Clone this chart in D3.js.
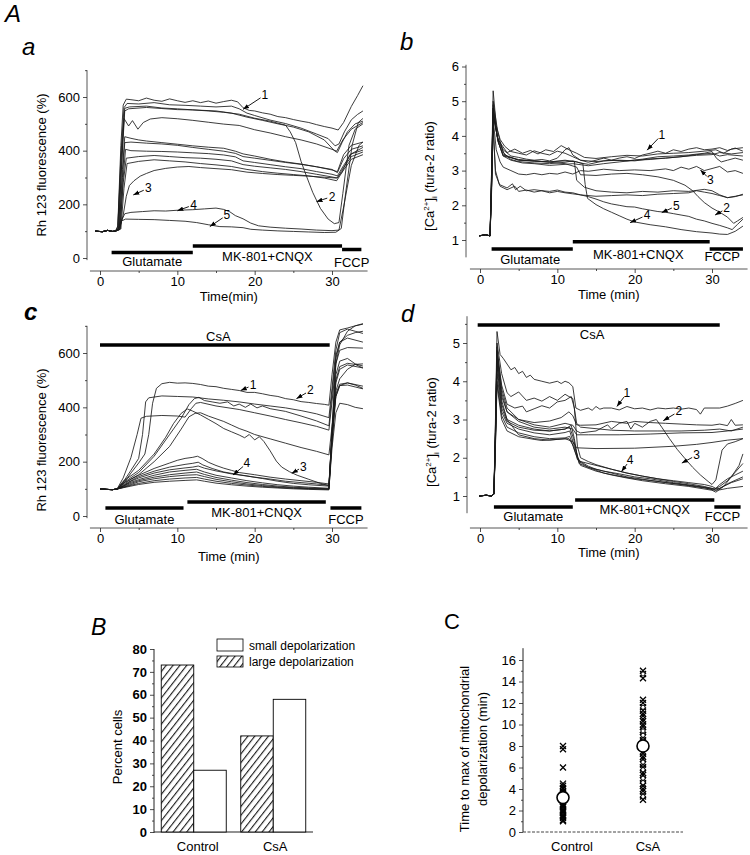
<!DOCTYPE html>
<html><head><meta charset="utf-8">
<script src="https://cdn.jsdelivr.net/npm/d3@7"></script>
<style>body{margin:0;background:#fff;}</style>
</head><body>
<script>
// ---------------- DATA ----------------
// Panel a: Rh123 fluorescence (%), control
const aPre = [[-0.6,100],[0.3,98],[1.0,103],[1.6,99],[2.0,100]];
const rhControlTraces = [
 [[2.3,120],[2.7,420],[3.0,570],[3.4,592],[4,590],[5,586],[6,596],[7,588],[8,584],[9,593],[10,586],[11,580],[12,586],[13,579],[14,585],[15,577],[16,583],[17,588],[17.8,582],[18.5,560],[19.3,550],[20,548],[21,541],[22,536],[23,527],[24,523],[25,516],[26,510],[27,505],[28,497],[29,490],[30,484],[30.8,477],[31.5,505],[32.5,565],[33.3,605],[34,642]],
 [[2.3,110],[2.7,380],[3.1,560],[3.5,576],[5,574],[7,579],[9,571],[11,569],[13,566],[15,563],[17,566],[18,556],[19,540],[20,531],[22,514],[24,501],[26,484],[28,462],[29.5,445],[30.4,418],[30.9,425],[31.6,470],[32.5,515],[33.3,535],[34,548]],
 [[2.4,110],[2.8,350],[3.2,548],[3.7,556],[6,561],[8,557],[10,553],[12,552],[15,548],[17,540],[19,525],[21,513],[23,500],[25,488],[27,470],[29,440],[30.3,400],[30.7,393],[31.3,430],[32,470],[33,500],[34,510]],
 [[2.3,115],[2.8,400],[3.2,558],[3.8,563],[6,566],[8,559],[10,556],[12,552],[14,548],[16,543],[18,536],[20,521],[22,510],[24,495],[24.6,470],[25.3,430],[26,360],[26.7,305],[27.5,245],[28.5,185],[29.5,145],[30.3,128],[30.9,132],[31.4,240],[32.2,420],[33,480],[34,500]],
 [[2.4,110],[2.8,350],[3.1,520],[3.7,492],[4.2,512],[4.9,480],[5.6,505],[6.5,518],[8,523],[10,519],[12,513],[14,506],[16,499],[18,494],[19,486],[20,478],[22,466],[24,452],[26,440],[28,425],[30,405],[30.6,398],[31.4,440],[32.5,480],[34,505]],
 [[2.5,115],[2.9,330],[3.2,452],[4,446],[5,440],[6,436],[8,430],[10,424],[12,418],[14,413],[16,409],[17.5,398],[18.5,388],[20,380],[22,368],[24,358],[26,350],[28,340],[30,328],[30.7,322],[31.5,385],[32.5,420],[34,432]],
 [[2.5,112],[2.9,300],[3.2,430],[4,432],[6,428],[8,425],[10,420],[12,412],[14,405],[16,398],[17.5,390],[18.5,378],[20,372],[22,364],[24,356],[26,349],[28,340],[30,330],[30.7,318],[31.5,370],[32.5,405],[34,418]],
 [[2.6,110],[3.0,300],[3.3,405],[4,400],[6,398],[8,397],[10,395],[12,392],[14,389],[16,384],[17.5,377],[18.5,362],[20,356],[22,348],[24,340],[26,333],[28,322],[30,312],[30.7,306],[31.5,345],[32.5,388],[34,402]],
 [[2.6,108],[3.0,280],[3.4,372],[5,378],[7,382],[9,378],[11,374],[13,372],[15,368],[17,362],[18.5,348],[20,342],[22,336],[24,330],[26,322],[28,312],[30,302],[30.7,298],[31.5,338],[32.5,378],[34,395]],
 [[2.7,108],[3.1,260],[3.5,352],[5,360],[7,366],[9,362],[11,358],[13,352],[15,347],[17,341],[19,330],[21,322],[23,316],[25,311],[27,306],[29,298],[30.6,288],[31.5,328],[32.5,368],[34,385]],
 [[2.5,105],[3.0,160],[3.4,230],[3.8,270],[4.4,288],[5.2,305],[6,315],[7,326],[8.5,334],[10,339],[11.5,341],[13,337],[15,333],[17,329],[19,320],[21,315],[23,311],[25,308],[27,305],[29,301],[30.6,298],[31.3,320],[32.3,385],[34,412]],
 [[2.4,105],[2.8,140],[3.2,165],[4,170],[5.5,173],[7,176],[8.5,175],[10,178],[12,180],[13.5,183],[15,186],[16,181],[16.8,172],[17.5,158],[18.5,146],[19.5,130],[20.5,120],[22,115],[24,111],[26,108],[28,104],[30,102],[30.9,104],[31.5,190],[32.5,345],[33.5,420],[34,432]],
 [[2.4,105],[2.8,138],[3.3,145],[5,144],[7,143],[9,140],[11,137],[12.5,132],[14,124],[15.5,117],[17,116],[18.5,113],[19.5,107],[21,104],[23,101],[25,99],[27,97],[29,95],[30.5,96],[31.2,110],[31.8,250],[32.6,420],[33.4,505],[34,520]]
];
const rhControlLabels = [["1",21.3,607,18.5,554],["2",30.0,229,28.0,210],["3",6.25,260,4.3,235],["4",12.1,198,10.0,176],["5",16.4,160,14.2,117]];

// Panel b: [Ca2+]i, control
const bPre = [[-0.1,1.12],[0.7,1.15],[1.3,1.12]];
const caControlTraces = [
 [[1.5,3.0],[1.7,5.3],[2.1,4.3],[2.6,3.9],[3.2,3.7],[4,3.55],[5,3.5],[6,3.45],[7,3.57],[8,3.5],[9,3.45],[10,3.56],[11,3.5],[12,3.4],[13,3.3],[14,3.24],[15,3.3],[16,3.36],[17,3.3],[18,3.36],[19,3.4],[20,3.35],[21,3.45],[22,3.5],[23,3.56],[24,3.5],[25,3.6],[26,3.55],[27,3.62],[28,3.66],[29,3.6],[30,3.62],[31,3.66],[32,3.58],[33,3.65],[34,3.56]],
 [[1.5,3.0],[1.7,4.8],[2.2,4.0],[3,3.6],[4,3.42],[5,3.38],[6,3.33],[7,3.3],[8,3.32],[9,3.28],[10,3.36],[11,3.6],[11.5,3.66],[12,3.45],[13,3.3],[15,3.26],[17,3.3],[19,3.28],[21,3.33],[23,3.4],[25,3.42],[27,3.45],[29,3.5],[30,3.55],[30.6,3.35],[31.2,3.25],[32,3.3],[33,3.36],[34,3.3]],
 [[1.5,2.8],[1.7,5.0],[2.3,4.1],[3,3.52],[4,3.32],[5,3.26],[7,3.22],[9,3.2],[11,3.24],[12,3.28],[13,3.22],[14,3.18],[16,3.28],[18,3.3],[20,3.28],[22,3.34],[24,3.36],[26,3.4],[28,3.46],[30,3.5],[31,3.42],[32,3.46],[34,3.42]],
 [[1.5,2.6],[1.7,4.6],[2.4,3.8],[3,3.42],[4,3.3],[5.5,3.22],[7,3.2],[9,3.15],[11,3.18],[12,3.2],[14,3.14],[16,3.2],[18,3.25],[20,3.3],[22,3.32],[24,3.36],[26,3.4],[28,3.44],[30,3.46],[31,3.52],[32.5,3.48],[34,3.52]],
 [[1.5,2.7],[1.7,4.7],[2.3,3.9],[3.5,3.52],[4.5,3.62],[5.5,3.5],[6.5,3.58],[7.5,3.48],[8.5,3.6],[9.5,3.55],[10.5,3.72],[11.5,3.6],[12.5,3.5],[13.5,3.38],[15,3.35],[17,3.4],[19,3.44],[21,3.42],[23,3.48],[25,3.5],[27,3.52],[29,3.56],[30.5,3.6],[31.5,3.5],[32.5,3.62],[34,3.66]],
 [[1.5,2.6],[1.7,4.5],[2.1,3.6],[2.6,3.25],[3,3.1],[4,3.0],[5,2.9],[6,2.88],[7,2.92],[8,2.88],[9,2.92],[10,2.9],[11,2.96],[12,2.9],[13,3.0],[14,2.98],[16,3.04],[18,3.0],[20,3.02],[22,3.0],[24,3.05],[25,3.0],[26,3.1],[27,3.04],[28,3.12],[29,3.0],[30,3.06],[31,3.12],[32,2.96],[33,3.0],[34,2.92]],
 [[1.5,2.8],[1.7,4.9],[2.3,3.9],[3.2,3.45],[5,3.3],[7,3.28],[9,3.24],[11,3.2],[12.5,3.1],[13,2.88],[15,2.86],[17,2.9],[19,2.92],[21,2.88],[23,2.82],[25,2.72],[26.5,2.58],[27.5,2.42],[28.2,2.25],[29,2.08],[30,1.92],[31,1.8],[32,1.66],[32.8,1.48],[33.3,1.55],[34,1.65]],
 [[1.5,2.6],[1.7,4.6],[2.4,3.8],[3,3.42],[5,3.32],[7,3.28],[9,3.25],[11,3.3],[12.2,3.26],[12.5,2.72],[13.5,2.52],[15,2.42],[17,2.38],[19,2.36],[21,2.4],[23,2.38],[25,2.42],[27,2.4],[29,2.46],[30,2.42],[31,2.3],[32,2.22],[33,2.25],[34,2.32]],
 [[1.5,2.8],[1.7,4.8],[2.3,3.85],[3,3.45],[5,3.3],[7,3.27],[9,3.25],[11,3.28],[12.5,3.25],[13.3,3.2],[13.6,2.6],[13.9,2.2],[15,2.02],[16,1.9],[17,1.8],[18,1.7],[19,1.6],[20,1.52],[22,1.44],[24,1.38],[26,1.3],[28,1.24],[30,1.2],[31,1.17],[32,1.16],[33,1.25],[34,1.4]],
 [[1.5,2.5],[1.7,4.3],[2.0,3.0],[2.5,2.6],[3.5,2.5],[4.2,2.62],[4.6,2.45],[5.2,2.55],[6,2.42],[7,2.45],[8,2.42],[9,2.4],[10,2.44],[11,2.38],[12,2.36],[13,2.3],[14,2.25],[15,2.18],[16,2.1],[17,2.04],[18,2.0],[19,1.96],[20,1.95],[21,1.9],[22,1.86],[23,1.82],[24,1.8],[25,1.76],[26,1.72],[27,1.68],[28,1.6],[29,1.55],[30,1.48],[31,1.42],[32,1.35],[32.6,1.3],[33.3,1.45],[34,1.6]],
 [[1.5,2.4],[1.7,4.3],[2.0,2.9],[2.6,2.55],[3.5,2.45],[4.5,2.55],[5,2.4],[6,2.44],[7,2.38],[8,2.42],[9,2.36],[10,2.4],[11,2.36],[12,2.33],[13,2.3],[15,2.26],[17,2.28],[19,2.3],[21,2.28],[23,2.32],[25,2.34],[27,2.36],[28,2.42],[29,2.38],[30,2.34],[31,2.28],[32,2.22],[33,2.26],[34,2.3]]
];
const caControlLabels = [["1",23.5,4.03,21.6,3.59],["3",29.8,2.73,28.5,3.02],["2",31.9,1.91,30.4,1.72],["5",25.4,1.98,23.5,1.79],["4",21.6,1.72,19.4,1.5]];

// Panel c: Rh123 fluorescence (%), CsA
const cPre = [[0,100],[0.8,98],[1.6,97],[2.2,99]];
const rhCsaTraces = [
 [[3,118],[4,158],[5,195],[5.8,228],[6.3,300],[6.8,415],[7.3,470],[8,487],[9,492],[10,489],[11,490],[12,488],[13,484],[14,478],[15,476],[16,470],[17,466],[18,462],[19,455],[20,455],[21,450],[22,444],[23,440],[24,432],[25,428],[26,421],[27,418],[28,414],[29,411],[29.6,408],[30,520],[30.5,640],[31,685],[32,692],[33,700],[34,706]],
 [[3,125],[4,168],[5,212],[5.5,300],[5.9,420],[6.3,435],[8,442],[10,440],[12,438],[14,431],[16,426],[18,420],[20,412],[22,405],[24,398],[26,388],[28,376],[29.6,362],[30,470],[30.5,610],[31,675],[32,688],[33,680],[34,672]],
 [[3,122],[5,160],[7,220],[9,300],[10.5,360],[11.5,410],[12.2,432],[12.8,437],[13.5,425],[14.5,420],[15.5,415],[16.5,420],[17.3,405],[18,412],[18.8,400],[19.5,412],[20.3,398],[21,405],[22,395],[24,385],[26,368],[28,350],[29.6,332],[30,450],[30.5,590],[31,640],[32,655],[34,640]],
 [[3,140],[4,215],[4.8,300],[5.3,360],[6,367],[8,370],[10,368],[11,364],[11.8,395],[12.4,415],[13,418],[15,405],[18,392],[20,380],[22,368],[24,355],[26,343],[28,330],[29.6,316],[30,420],[30.5,560],[31,610],[32,620],[34,618]],
 [[3,128],[5,168],[7,228],[8.5,290],[9.5,340],[10.5,378],[11.3,394],[12,386],[13,372],[14,356],[15,340],[16,322],[17,310],[18,298],[18.7,288],[19.3,300],[20,280],[20.6,292],[21.2,274],[22,240],[22.8,202],[23.5,180],[24.5,163],[25.5,150],[27,135],[28.5,120],[29.6,112],[30,290],[30.5,490],[31,540],[32,556],[34,545]],
 [[3,120],[5,152],[7,200],[9,256],[10.5,320],[11.5,365],[12.3,378],[13,380],[14,368],[15,358],[16,348],[17,335],[18,322],[19,312],[20,300],[22,284],[24,268],[26,252],[28,238],[29.6,225],[30,330],[30.5,440],[31,480],[32,490],[34,478]],
 [[3,115],[4,135],[5,150],[7,175],[9,195],[10,205],[11,212],[12,216],[12.6,220],[13.2,212],[14,198],[15,186],[16,176],[17,168],[18,160],[20,152],[22,143],[24,136],[26,130],[28,124],[29.6,118],[30,300],[30.5,520],[31,570],[32,580],[33,560],[34,552]],
 [[3,112],[4,130],[5,145],[7,165],[9,180],[11,190],[12,194],[12.7,198],[13.3,188],[14.5,175],[16,162],[18,152],[20,143],[22,136],[24,128],[26,123],[28,118],[29.6,113],[30,280],[30.5,450],[31,485],[32,490],[33,482],[34,470]],
 [[3,110],[4,128],[5,140],[7,158],[9,170],[11,177],[12,180],[12.7,184],[13.5,176],[15,166],[17,155],[19,147],[21,138],[23,128],[25,120],[27,115],[29.6,110],[30,300],[30.5,500],[31,550],[32,562],[33,558],[34,545]],
 [[3,110],[4,124],[5,134],[7,150],[9,162],[11,168],[12.5,172],[13.5,162],[15,150],[17,140],[19,130],[21,122],[23,115],[25,110],[27,106],[29.6,102],[30,310],[30.5,560],[31,630],[32,680],[33,700],[34,708]],
 [[3,108],[4,120],[5,130],[7,143],[9,152],[11,158],[12.5,162],[13.5,153],[15,142],[17,132],[19,123],[21,116],[23,110],[25,106],[27,103],[29.6,100],[30,320],[30.5,580],[31,640],[32,665],[33,675],[34,680]],
 [[3,106],[4,116],[5,126],[7,137],[9,145],[11,150],[12.5,152],[13.5,145],[15,135],[17,126],[19,118],[21,112],[23,107],[25,104],[27,101],[29.6,99],[30,270],[30.5,440],[31,480],[32,482],[33,475],[34,468]],
 [[3,105],[4,113],[5,120],[7,130],[9,136],[11,140],[12.5,142],[13.5,136],[15,128],[17,120],[19,114],[21,109],[23,105],[25,102],[27,100],[29.6,98],[30,250],[30.5,380],[31,415],[32,410],[33,400],[34,395]],
 [[3,104],[4,110],[5,116],[7,124],[9,128],[11,131],[12.5,133],[13.5,128],[15,121],[17,115],[19,110],[21,106],[23,103],[25,100],[27,98],[29.6,96],[30,280],[30.5,460],[31,505],[32,540],[33,558],[34,560]]
];
const rhCsaLabels = [["1",19.8,482,18.2,462],["2",27.2,462,25.4,432],["3",26.3,182,24.8,157],["4",19.0,194,17.2,151]];

// Panel d: [Ca2+]i, CsA
const dPre = [[-0.1,1.0],[0.8,1.02],[1.5,1.0],[1.8,1.05]];
const caCsaTraces = [
 [[2.0,3.0],[2.2,5.3],[2.6,4.7],[3,4.6],[3.5,4.45],[4,4.3],[4.5,4.36],[5,4.2],[5.5,4.26],[6,4.1],[6.5,4.16],[7,4.05],[8,4.0],[9,3.95],[10,4.0],[10.5,3.94],[11,4.0],[11.5,3.96],[12,3.86],[12.4,3.3],[13,3.24],[14,3.3],[14.5,3.24],[15,3.34],[15.5,3.27],[16,3.3],[17,3.3],[18,3.25],[19,3.34],[20,3.28],[21,3.3],[22,3.25],[23,3.3],[24,3.28],[25,3.3],[26,3.27],[27,3.3],[28,3.26],[28.5,3.14],[29,3.3],[30,3.3],[31,3.3],[32,3.35],[33,3.42],[34,3.5]],
 [[2.0,2.8],[2.2,5.0],[2.8,4.2],[3.5,3.7],[4,3.6],[5,3.72],[6,3.5],[7,3.56],[8,3.48],[9,3.6],[10,3.5],[11,3.66],[11.5,3.6],[12,3.55],[12.5,2.9],[13,2.8],[15,2.76],[17,2.72],[20,2.7],[23,2.7],[26,2.7],[29,2.72],[31,2.75],[32.5,2.7],[34,2.8]],
 [[2.0,2.6],[2.2,4.8],[2.8,3.9],[3.5,3.4],[4.5,3.3],[5.5,3.35],[6,3.2],[7,3.28],[8,3.36],[9,3.3],[10,3.46],[11,3.5],[11.8,3.6],[12.2,3.3],[12.6,2.3],[13,2.0],[14,1.9],[15,1.82],[17,1.7],[19,1.6],[21,1.52],[23,1.45],[25,1.38],[27,1.32],[29,1.25],[30.3,1.18],[31,1.25],[32,1.4],[33,1.62],[34,1.85]],
 [[2.0,2.6],[2.2,4.6],[2.8,3.6],[3.5,3.2],[5,3.0],[7,2.92],[9,2.96],[10.5,3.05],[11.5,3.2],[12,3.1],[12.5,2.86],[13,2.85],[15,2.86],[17,2.95],[19,2.9],[20,2.95],[22,2.92],[24,2.9],[26,2.88],[28,2.86],[30,2.85],[31,2.88],[32,2.84],[32.5,3.0],[33,2.85],[34,2.86]],
 [[2.0,2.8],[2.2,4.9],[2.8,3.8],[3.5,3.3],[5,3.0],[7,2.86],[9,2.8],[11,2.9],[12,2.85],[12.5,2.7],[13,2.65],[15,2.7],[16.5,2.86],[17,2.75],[18,2.9],[19,2.95],[19.5,2.75],[20,2.9],[21,2.8],[22,2.95],[22.8,3.0],[23.5,2.8],[24.5,2.5],[25.5,2.22],[26.5,1.98],[27.5,1.75],[28.5,1.55],[29.5,1.38],[30,1.3],[30.5,1.42],[31.3,2.2],[32,2.36],[33,2.42],[34,2.5]],
 [[2.0,2.5],[2.2,4.5],[2.8,3.4],[3.5,3.0],[5,2.6],[7,2.5],[9,2.46],[11,2.5],[12,2.42],[12.5,2.26],[15,2.24],[20,2.25],[25,2.3],[28,2.35],[30,2.4],[32,2.46],[34,2.5]],
 [[2.0,2.6],[2.2,4.7],[2.8,3.7],[3.5,3.2],[5,2.95],[7,2.8],[9,2.75],[11,2.8],[12,2.75],[12.5,2.6],[14,2.6],[18,2.6],[22,2.62],[26,2.65],[30,2.66],[32,2.7],[34,2.75]],
 [[2.0,2.6],[2.2,4.8],[2.8,3.5],[3.5,3.0],[5,2.85],[7,2.75],[9,2.7],[11,2.75],[11.8,2.85],[12.2,2.5],[12.6,2.0],[13,1.9],[15,1.8],[17,1.7],[19,1.6],[21,1.52],[23,1.45],[25,1.4],[27,1.35],[29,1.3],[30,1.25],[30.5,1.2],[31,1.3],[32,1.45],[33,1.55],[34,1.65]],
 [[2.0,2.4],[2.2,4.4],[2.8,3.3],[3.5,2.95],[5,2.8],[7,2.72],[9,2.7],[11,2.75],[11.6,2.8],[12.1,2.5],[12.8,1.85],[14,1.75],[16,1.65],[18,1.58],[20,1.5],[22,1.45],[25,1.35],[28,1.26],[30,1.2],[30.5,1.15],[31.5,1.25],[32.5,1.35],[34,1.45]],
 [[2.0,2.5],[2.2,4.2],[2.8,3.2],[3.5,2.9],[5,2.75],[7,2.65],[9,2.6],[11,2.66],[11.6,2.7],[12.2,2.3],[13,1.8],[15,1.65],[17,1.55],[19,1.47],[21,1.4],[24,1.32],[27,1.25],[30,1.15],[30.5,1.1],[31.5,1.25],[32.5,1.5],[33.5,1.8],[34,2.1]],
 [[2.0,2.4],[2.2,4.0],[2.8,3.1],[3.5,2.8],[5,2.65],[7,2.55],[9,2.5],[11,2.52],[11.6,2.56],[12.2,2.2],[12.8,1.9],[14,1.75],[16,1.6],[18,1.52],[20,1.45],[23,1.38],[26,1.3],[28,1.24],[30,1.18],[31,1.2],[32,1.32],[34,1.5]],
 [[2.0,2.3],[2.2,3.9],[2.8,3.0],[3.5,2.7],[5,2.55],[7,2.48],[8,2.45],[10,2.48],[11.5,2.5],[12.1,2.3],[12.6,1.95],[14,1.78],[15,1.7],[17,1.6],[19,1.5],[21,1.44],[24,1.35],[27,1.28],[29,1.22],[30.3,1.15],[31,1.16],[32,1.2],[34,1.25]]
];
const caCsaLabels = [["1",19.0,3.69,17.7,3.34],["2",25.7,3.21,23.7,2.97],["3",28.0,2.07,26.1,1.86],["4",19.4,1.94,18.3,1.64]];

// Treatments (name, start min, end min)
const treatA = [["Glutamate",1.5,12],["MK-801+CNQX",12,31.3],["FCCP",31.3,33.8]];
const treatB = [["Glutamate",1.5,12],["MK-801+CNQX",12,29.7],["FCCP",29.7,34]];
const treatC = [["Glutamate",0.7,10.8],["MK-801+CNQX",11.3,29.2],["FCCP",29.8,33.8]];
const treatD = [["Glutamate",1.8,12],["MK-801+CNQX",12.3,30.3],["FCCP",30.3,33.7]];
const csaC = ["CsA",0,29.7];
const csaD = ["CsA",-0.3,31];

// Panel B
const groups = ["Control","CsA"];
const largeDepol = [73,42];
const smallDepol = [27,58];
const percentTicks = [0,10,20,30,40,50,60,70,80];

// Panel C
const controlTimes = [1.0,1.1,1.3,1.4,1.5,1.6,1.8,1.9,2.0,2.1,2.3,2.4,2.5,2.6,2.8,2.9,3.0,3.1,3.3,3.4,3.5,3.7,3.8,4.0,4.1,4.3,4.5,6.0,7.7,8.0];
const csaTimes = [3.0,3.3,3.5,3.8,4.0,4.3,4.5,4.8,5.0,5.3,5.5,5.8,6.0,6.3,6.5,6.8,7.0,7.3,7.5,7.8,8.0,8.3,8.5,8.8,9.0,9.3,9.5,9.8,10.0,10.3,10.5,10.8,11.0,11.3,11.6,12.0,12.3,14.3,14.7,15.0];
const csaCircles = [3.3,4.6,5.0,5.8,6.5,9.0,9.4,11.6,14.7];
const groupMeans = [3.2,8.0];
const timeTicks = [0,2,4,6,8,10,12,14,16];

// ---------------- DRAW ----------------
const FONT = "'Liberation Sans', Arial, Helvetica, sans-serif";
const svg = d3.select("body").append("svg").attr("width",750).attr("height",855)
  .style("font-family",FONT).style("background","#fff");
const defs = svg.append("defs");
defs.append("marker").attr("id","arr").attr("viewBox","0 0 8 6").attr("refX",8).attr("refY",3)
  .attr("markerWidth",6).attr("markerHeight",5).attr("markerUnits","userSpaceOnUse").attr("orient","auto")
  .append("path").attr("d","M0,0L8,3L0,6Z").attr("fill","#000");
const hatch = defs.append("pattern").attr("id","hatch").attr("patternUnits","userSpaceOnUse")
  .attr("width",5.4).attr("height",10).attr("patternTransform","rotate(38)");
hatch.append("rect").attr("width",5.4).attr("height",10).attr("fill","#fff");
hatch.append("line").attr("x1",0.6).attr("y1",0).attr("x2",0.6).attr("y2",10).attr("stroke","#000").attr("stroke-width",1);

function styleAxis(g){
  g.attr("font-family",null).attr("font-size",13);
  g.select(".domain").remove();
  g.selectAll("line").attr("stroke","#222").attr("stroke-width",0.8);
  g.selectAll("text").attr("fill","#000");
}

function tracePanel(o){
  const x = d3.scaleLinear().domain([0,30]).range(o.xr);
  const y = d3.scaleLinear().domain(o.yd).range(o.yr);
  const g = svg.append("g");
  g.append("line").attr("x1",o.yAxisX).attr("x2",o.yAxisX).attr("y1",y(o.yExt[1])).attr("y2",y(o.yExt[0]))
    .attr("stroke","#444").attr("stroke-width",0.9);
  g.append("g").attr("transform",`translate(${o.yAxisX},0)`)
    .call(d3.axisLeft(y).tickValues(o.yMinor).tickSize(2).tickFormat("")).call(styleAxis);
  g.append("g").attr("transform",`translate(${o.yAxisX},0)`)
    .call(d3.axisLeft(y).tickValues(o.yTicks).tickSize(4).tickPadding(3).tickFormat(d3.format("d"))).call(styleAxis);
  g.append("line").attr("x1",x(-1.3)).attr("x2",x(34.6)).attr("y1",o.xAxisY).attr("y2",o.xAxisY)
    .attr("stroke","#444").attr("stroke-width",0.9);
  g.append("g").attr("transform",`translate(0,${o.xAxisY})`)
    .call(d3.axisBottom(x).tickValues([5,15,25]).tickSize(2).tickFormat("")).call(styleAxis);
  g.append("g").attr("transform",`translate(0,${o.xAxisY})`)
    .call(d3.axisBottom(x).tickValues([0,10,20,30]).tickSize(4).tickPadding(2).tickFormat(d3.format("d"))).call(styleAxis);
  g.append("text").attr("x",(x(-1.3)+x(34.6))/2).attr("y",o.xTitleY).attr("text-anchor","middle")
    .attr("font-size",13).text(o.xTitle);
  const yt = g.append("text").attr("transform",`translate(${o.yTitleX},${o.yTitleY}) rotate(-90)`)
    .attr("text-anchor","middle").attr("font-size",13);
  if(o.ca){
    yt.append("tspan").text("[Ca");
    yt.append("tspan").attr("font-size",8).attr("dy",-5).text("2+");
    yt.append("tspan").attr("dy",5).text("]");
    yt.append("tspan").attr("font-size",8).attr("dy",3).text("i");
    yt.append("tspan").attr("dy",-3).text(" (fura-2 ratio)");
  } else yt.text(o.yTitle);
  const line = d3.line().x(d=>x(d[0])).y(d=>y(d[1]));
  g.append("g").selectAll("path").data(o.traces).join("path")
    .attr("d",d=>line(o.pre.concat(d))).attr("fill","none").attr("stroke","#1a1a1a")
    .attr("stroke-width",0.85).attr("stroke-linejoin","round");
  o.treat.forEach((t,i)=>{
    g.append("line").attr("x1",x(t[1])).attr("x2",x(t[2])).attr("y1",o.barY[i]).attr("y2",o.barY[i])
      .attr("stroke","#000").attr("stroke-width",3.5);
    g.append("text").attr("x",x((t[1]+t[2])/2)+(o.lblDx?o.lblDx[i]:0)).attr("y",o.lblY[i]).attr("text-anchor","middle")
      .attr("font-size",13).text(t[0]);
  });
  if(o.csa){
    g.append("line").attr("x1",x(o.csa[1])).attr("x2",x(o.csa[2])).attr("y1",o.csaY).attr("y2",o.csaY)
      .attr("stroke","#000").attr("stroke-width",3.5);
    g.append("text").attr("x",x(o.csaLblT)).attr("y",o.csaLblY).attr("text-anchor","middle")
      .attr("font-size",13).text(o.csa[0]);
  }
  o.labels.forEach(l=>{
    const lx=x(l[1]), ly=y(l[2]), tx=x(l[3]), ty=y(l[4]);
    const dx=tx-lx, dy=ty-ly, len=Math.hypot(dx,dy);
    g.append("line").attr("x1",lx+dx/len*5).attr("y1",ly+dy/len*5).attr("x2",tx).attr("y2",ty)
      .attr("stroke","#000").attr("stroke-width",0.9).attr("marker-end","url(#arr)");
    g.append("text").attr("x",lx).attr("y",ly+4).attr("text-anchor","middle").attr("font-size",12).text(l[0]);
  });
  g.append("text").attr("x",o.letter[1]).attr("y",o.letter[2]).attr("font-size",24).attr("font-style","italic")
    .attr("font-weight",o.letter[3]||"normal").text(o.letter[0]);
}

svg.append("text").attr("x",5).attr("y",22).attr("font-size",24).attr("font-style","italic").text("A");

tracePanel({xr:[100,332], yd:[0,600], yr:[258,97], yAxisX:87, yExt:[-8,700], yTicks:[0,200,400,600], yMinor:[100,300,500,700],
  xAxisY:271, xTitle:"Time(min)", xTitleY:301, yTitle:"Rh 123 fluorescence (%)", yTitleX:46, yTitleY:165,
  pre:aPre, traces:rhControlTraces, treat:treatA, barY:[252.6,246,249.5], lblY:[266,261,267],
  labels:rhControlLabels, letter:["a",22,55]});

tracePanel({xr:[480,712], yd:[1,6], yr:[240,66.5], yAxisX:466, yExt:[0.5,6.05], yTicks:[1,2,3,4,5,6], yMinor:[1.5,2.5,3.5,4.5,5.5],
  xAxisY:269, xTitle:"Time (min)", xTitleY:299, ca:true, yTitleX:434, yTitleY:176,
  pre:bPre, traces:caControlTraces, treat:treatB, barY:[249,241.7,249], lblY:[264,259,261], lblDx:[-2,-3,-4],
  labels:caControlLabels, letter:["b",400,50]});

tracePanel({xr:[100,332], yd:[0,600], yr:[516,353], yAxisX:87, yExt:[-8,700], yTicks:[0,200,400,600], yMinor:[100,300,500,700],
  xAxisY:528, xTitle:"Time (min)", xTitleY:561, yTitle:"Rh 123 fluorescence (%)", yTitleX:46, yTitleY:440,
  pre:cPre, traces:rhCsaTraces, treat:treatC, barY:[508,502,508], lblY:[524,517,524],
  csa:csaC, csaY:345, csaLblT:15.3, csaLblY:341,
  labels:rhCsaLabels, letter:["c",24,320,"bold"]});

tracePanel({xr:[480,712], yd:[1,5], yr:[496,343], yAxisX:467, yExt:[0.55,5.7], yTicks:[1,2,3,4,5], yMinor:[1.5,2.5,3.5,4.5,5.5],
  xAxisY:528, xTitle:"Time (min)", xTitleY:557, ca:true, yTitleX:436, yTitleY:432,
  pre:dPre, traces:caCsaTraces, treat:treatD, barY:[507,500,507], lblY:[521,514,521], lblDx:[0,0,-5],
  csa:csaD, csaY:325, csaLblT:14.5, csaLblY:339,
  labels:caCsaLabels, letter:["d",401,322]});

// ---------- Panel B ----------
(function(){
  const g = svg.append("g");
  const y = d3.scaleLinear().domain([0,80]).range([832,649]);
  const x = d3.scalePoint().domain(groups).range([154,313]).padding(0.5);
  const bw = 32.5;
  g.append("line").attr("x1",154).attr("x2",154).attr("y1",y(80)).attr("y2",y(0)+1).attr("stroke","#222");
  g.append("line").attr("x1",154).attr("x2",313).attr("y1",y(0)).attr("y2",y(0)).attr("stroke","#222");
  g.append("g").attr("transform","translate(154,0)")
    .call(d3.axisLeft(y).tickValues([5,15,25,35,45,55,65,75]).tickSize(2).tickFormat("")).call(styleAxis);
  const ya = g.append("g").attr("transform","translate(154,0)")
    .call(d3.axisLeft(y).tickValues(percentTicks).tickSize(4).tickPadding(3).tickFormat(d3.format("d"))).call(styleAxis);
  ya.selectAll("text").attr("font-weight","bold");
  groups.forEach((grp,i)=>{
    g.append("rect").attr("x",x(grp)-bw).attr("y",y(largeDepol[i])).attr("width",bw).attr("height",y(0)-y(largeDepol[i]))
      .attr("fill","url(#hatch)").attr("stroke","#000").attr("stroke-width",0.9);
    g.append("rect").attr("x",x(grp)).attr("y",y(smallDepol[i])).attr("width",bw).attr("height",y(0)-y(smallDepol[i]))
      .attr("fill","#fff").attr("stroke","#000").attr("stroke-width",0.9);
    g.append("text").attr("x",x(grp)+(i?2:4)).attr("y",851).attr("text-anchor","middle").attr("font-size",13).text(grp);
  });
  g.append("text").attr("transform","translate(122,747) rotate(-90)").attr("text-anchor","middle").attr("font-size",13).text("Percent cells");
  g.append("rect").attr("x",217).attr("y",639).attr("width",26).attr("height",12).attr("fill","#fff").attr("stroke","#000").attr("stroke-width",0.8);
  g.append("rect").attr("x",217).attr("y",656).attr("width",26).attr("height",11).attr("fill","url(#hatch)").attr("stroke","#000").attr("stroke-width",0.8);
  g.append("text").attr("x",249).attr("y",650).attr("font-size",12).text("small depolarization");
  g.append("text").attr("x",249).attr("y",666).attr("font-size",12).text("large depolarization");
  g.append("text").attr("x",91).attr("y",635).attr("font-size",23).attr("font-style","italic").text("B");
})();

// ---------- Panel C ----------
(function(){
  const g = svg.append("g");
  const y = d3.scaleLinear().domain([0,16]).range([832,660]);
  const x = d3.scalePoint().domain(groups).range([523,683]).padding(0.5);
  g.append("line").attr("x1",523).attr("x2",523).attr("y1",y(17.1)).attr("y2",y(0)).attr("stroke","#222");
  g.append("line").attr("x1",523).attr("x2",683).attr("y1",y(0)).attr("y2",y(0)).attr("stroke","#444").attr("stroke-dasharray","3,1.5");
  g.append("g").attr("transform","translate(523,0)")
    .call(d3.axisLeft(y).tickValues([1,3,5,7,9,11,13,15]).tickSize(2).tickFormat("")).call(styleAxis);
  g.append("g").attr("transform","translate(523,0)")
    .call(d3.axisLeft(y).tickValues(timeTicks).tickSize(4).tickPadding(3).tickFormat(d3.format("d"))).call(styleAxis);
  const xs = [controlTimes, csaTimes];
  groups.forEach((grp,i)=>{
    const cx = x(grp);
    g.append("g").selectAll("path").data(xs[i]).join("path")
      .attr("d",d=>`M${cx-3},${y(d)-3}L${cx+3},${y(d)+3}M${cx-3},${y(d)+3}L${cx+3},${y(d)-3}`)
      .attr("stroke","#000").attr("stroke-width",1.3);
    if(i===1){
      g.append("g").selectAll("circle").data(csaCircles).join("circle")
        .attr("cx",cx).attr("cy",d=>y(d)).attr("r",2).attr("fill","#fff").attr("stroke","#000").attr("stroke-width",0.8);
    }
    g.append("circle").attr("cx",cx).attr("cy",y(groupMeans[i])).attr("r",6)
      .attr("fill","#fff").attr("stroke","#000").attr("stroke-width",1.6);
    g.append("text").attr("x",cx+(i?5:9)).attr("y",851).attr("text-anchor","middle").attr("font-size",13).text(grp);
  });
  g.append("text").attr("transform","translate(469,749) rotate(-90)").attr("text-anchor","middle").attr("font-size",13).text("Time to max of mitochondrial");
  g.append("text").attr("transform","translate(487,749) rotate(-90)").attr("text-anchor","middle").attr("font-size",13).text("depolarization (min)");
  g.append("text").attr("x",444).attr("y",629).attr("font-size",22).text("C");
})();
</script>
</body></html>
